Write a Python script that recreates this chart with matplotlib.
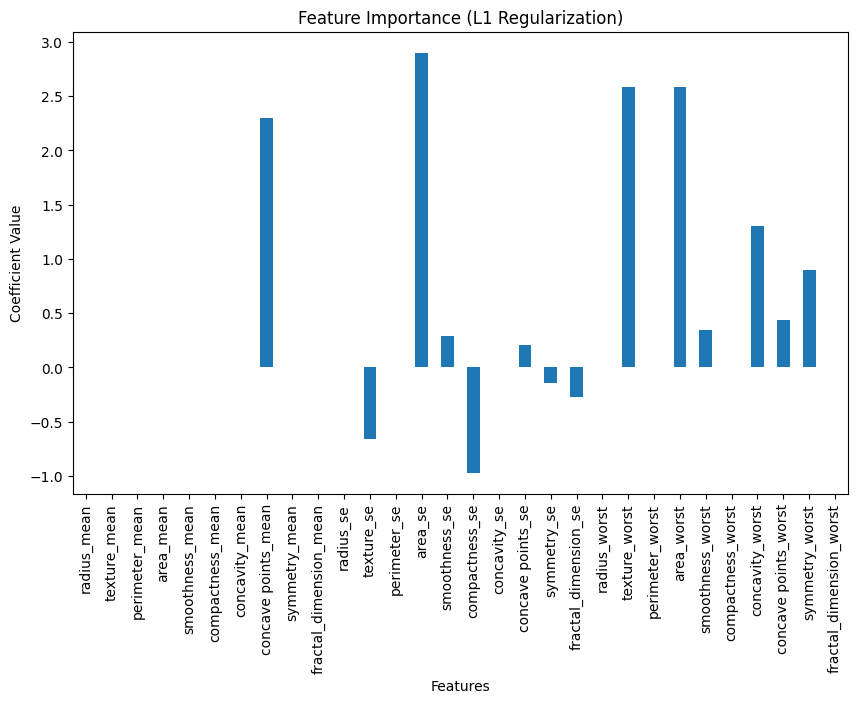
import matplotlib
matplotlib.use("Agg")
import matplotlib.pyplot as plt
import pandas as pd

features = [
    "radius_mean", "texture_mean", "perimeter_mean", "area_mean", "smoothness_mean",
    "compactness_mean", "concavity_mean", "concave points_mean", "symmetry_mean",
    "fractal_dimension_mean", "radius_se", "texture_se", "perimeter_se", "area_se",
    "smoothness_se", "compactness_se", "concavity_se", "concave points_se",
    "symmetry_se", "fractal_dimension_se", "radius_worst", "texture_worst",
    "perimeter_worst", "area_worst", "smoothness_worst", "compactness_worst",
    "concavity_worst", "concave points_worst", "symmetry_worst",
    "fractal_dimension_worst",
]
coefficients = [
    0.0, 0.0, 0.0, 0.0, 0.0,
    0.0, 0.0, 2.30, 0.0,
    0.0, 0.0, -0.656, 0.0, 2.90,
    0.29, -0.97, 0.0, 0.205,
    -0.148, -0.278, 0.0, 2.585,
    0.0, 2.585, 0.342, 0.0,
    1.30, 0.435, 0.895,
    0.0,
]

s = pd.Series(coefficients, index=features)
fig, ax = plt.subplots(figsize=(10, 6), dpi=100)
s.plot(kind="bar", ax=ax, color="#1f77b4")
ax.set_title("Feature Importance (L1 Regularization)")
ax.set_xlabel("Features")
ax.set_ylabel("Coefficient Value")
fig.savefig("out.png", dpi=100, bbox_inches="tight")
